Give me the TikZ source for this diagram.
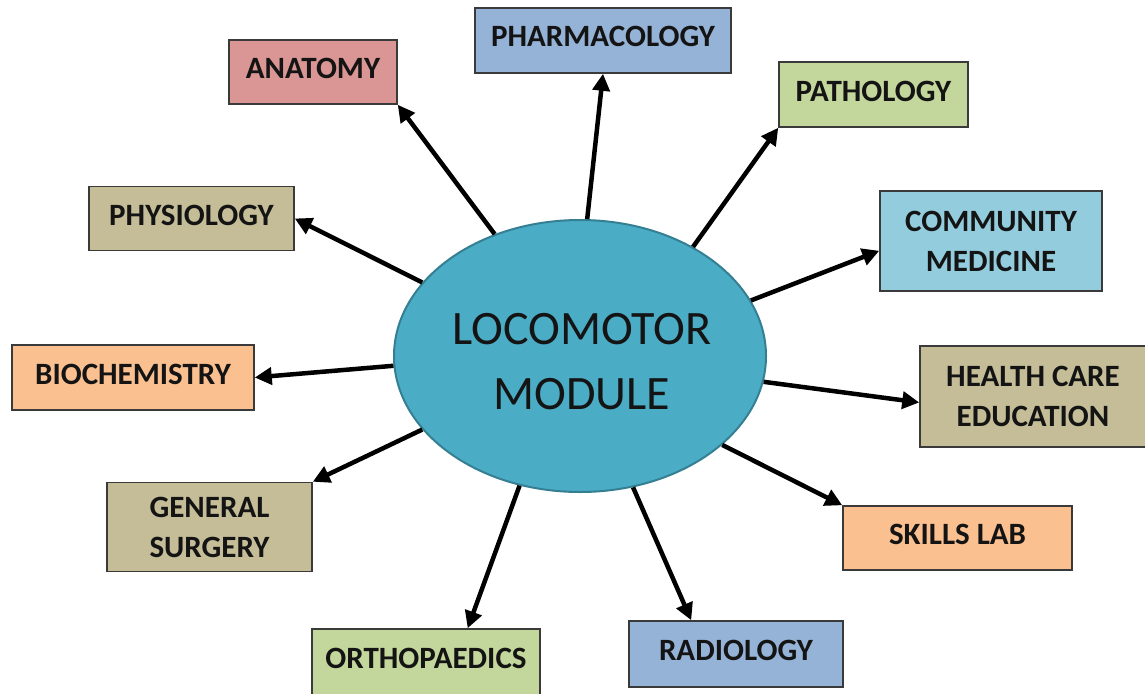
\documentclass[tikz,border=0pt]{standalone}
\usepackage{fontspec}
\setmainfont{Carlito}
\usetikzlibrary{arrows.meta,shapes.geometric}
\definecolor{hubfill}{HTML}{4BACC6}
\definecolor{hubline}{HTML}{357F93}
\definecolor{boxline}{HTML}{3A3A3A}
\definecolor{textdark}{HTML}{141414}
\definecolor{rosefill}{HTML}{D99694}
\definecolor{bluefill}{HTML}{95B3D7}
\definecolor{greenfill}{HTML}{C3D69B}
\definecolor{tanfill}{HTML}{C4BD97}
\definecolor{cyanfill}{HTML}{93CDDD}
\definecolor{peachfill}{HTML}{FAC090}
\begin{document}
\begin{tikzpicture}[x=1pt,y=-1pt,
  topic/.style={draw=boxline, line width=1.5pt, text=textdark, align=center,
    inner sep=0pt, font=\fontsize{31}{40}\selectfont\bfseries},
  oneline/.style={topic, text height=21pt, text depth=8pt},
  hub/.style={ellipse, draw=hubline, line width=2pt, fill=hubfill, inner sep=0pt},
  hubtext/.style={text=textdark, align=center, inner sep=0pt,
    font=\fontsize{48}{65}\selectfont},
  link/.style={line width=4.5pt, draw=black, -{Triangle[length=17pt,width=17pt]}}]
\useasboundingbox (0,0) rectangle (1145,693);
\fill[white] (0,0) rectangle (1145,693);

% central module
\node[hub, minimum width=372pt, minimum height=272pt] (hub) at (580,356) {};
\node[hubtext] (hublabel) at (582,361.5) {LOCOMOTOR\\MODULE};

% subject boxes
\node[oneline, fill=rosefill,  minimum width=168pt, minimum height=64pt]  (ana) at (313,72)      {ANATOMY};
\node[oneline, fill=bluefill,  minimum width=256pt, minimum height=65pt]  (pha) at (603,40.5)    {PHARMACOLOGY};
\node[oneline, fill=greenfill, minimum width=189pt, minimum height=65pt]  (pat) at (873.5,94.5)  {PATHOLOGY};
\node[oneline, fill=tanfill,   minimum width=205pt, minimum height=64pt]  (phy) at (191.5,218.5) {PHYSIOLOGY};
\node[topic,   fill=cyanfill,  minimum width=222pt, minimum height=100pt] (com) at (991,241)     {COMMUNITY\\MEDICINE};
\node[oneline, fill=peachfill, minimum width=242pt, minimum height=65pt]  (bio) at (133,377.5)   {BIOCHEMISTRY};
\node[topic,   fill=tanfill,   minimum width=226pt, minimum height=101pt] (hea) at (1033,396.5)  {HEALTH CARE\\EDUCATION};
\node[topic,   fill=tanfill,   minimum width=205pt, minimum height=89pt]  (gen) at (209.5,527)   {GENERAL\\SURGERY};
\node[oneline, fill=peachfill, minimum width=229pt, minimum height=64pt]  (ski) at (957.5,538)   {SKILLS LAB};
\node[oneline, fill=greenfill, minimum width=228pt, minimum height=66pt]  (ort) at (426,662)     {ORTHOPAEDICS};
\node[oneline, fill=bluefill,  minimum width=214pt, minimum height=66pt]  (rad) at (736,654)     {RADIOLOGY};

% connectors from the module to each subject
\draw[link] (hub.125)   -- (ana.south east);
\draw[link] (hub.87)    -- (pha.south);
\draw[link] (hub.44.5)  -- (pat.south west);
\draw[link] (hub.155)   -- (phy.east);
\draw[link] (hub.18.7)  -- (com.185);
\draw[link] (hub.183.3) -- (bio.east);
\draw[link] (hub.352)   -- (hea.183);
\draw[link] (hub.205)   -- (gen.north east);
\draw[link] (hub.328.6) -- (ski.north west);
\draw[link] (hub.245.7) -- (ort.39);
\draw[link] (hub.292)   -- (rad.143);
\end{tikzpicture}
\end{document}
